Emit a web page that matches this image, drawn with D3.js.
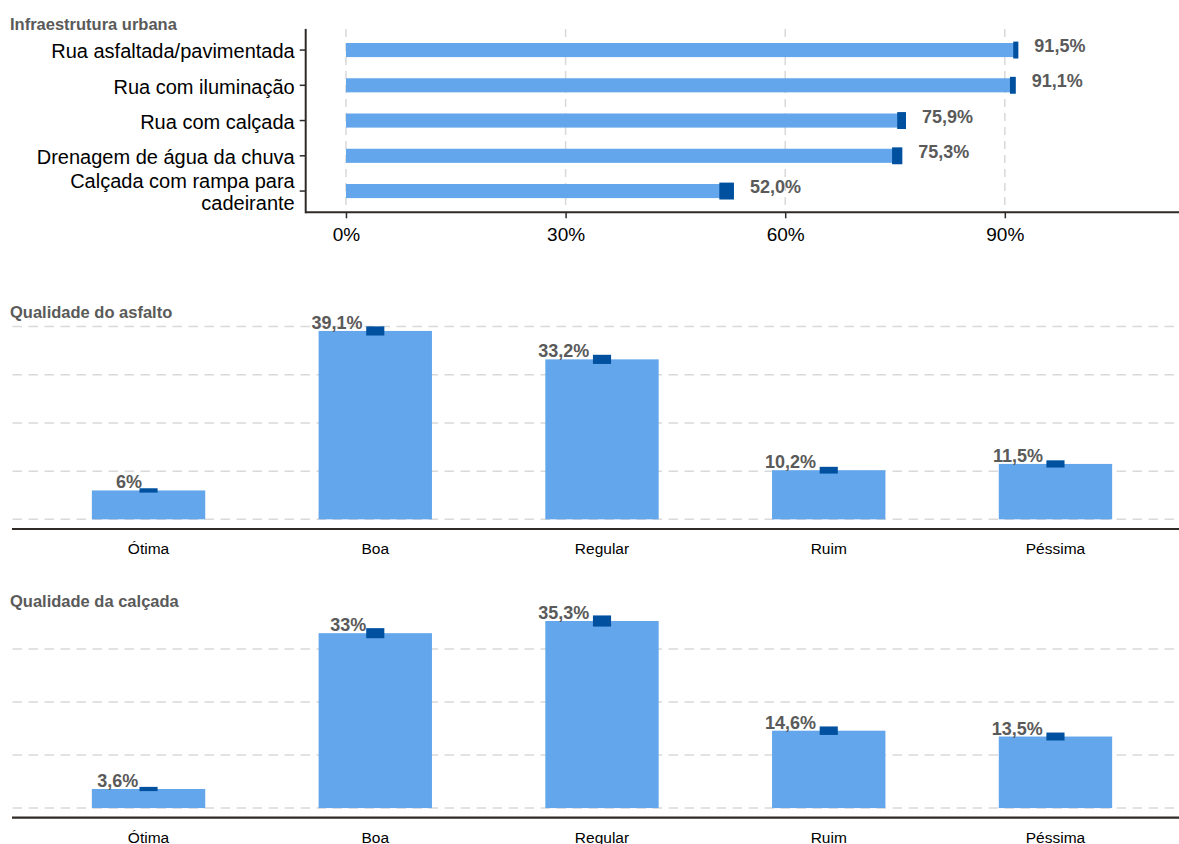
<!DOCTYPE html>
<html>
<head>
<meta charset="utf-8">
<script src="https://cdn.jsdelivr.net/npm/d3@7/dist/d3.min.js"></script>
<style>
  html, body { margin: 0; padding: 0; background: #ffffff; }
  svg { display: block; font-family: "Liberation Sans", Arial, sans-serif; }
</style>
</head>
<body>
<svg id="chart" width="1179" height="844"></svg>
<script>
// Infraestrutura urbana (percentual de domicílios) e margens de erro
const infraCategorias = [
  "Rua asfaltada/pavimentada",
  "Rua com iluminação",
  "Rua com calçada",
  "Drenagem de água da chuva",
  "Calçada com rampa para\ncadeirante"
];
const infraValores = [91.5, 91.1, 75.9, 75.3, 52.0];
const infraMargens = [0.35, 0.4, 0.6, 0.7, 1.0];
const infraTicks = [0, 30, 60, 90];

// Qualidade do asfalto e da calçada
const qualidadeCategorias = ["Ótima", "Boa", "Regular", "Ruim", "Péssima"];
const asfaltoValores = [6, 39.1, 33.2, 10.2, 11.5];
const asfaltoMargens = [0.45, 0.95, 0.95, 0.7, 0.75];
const calcadaValores = [3.6, 33, 35.3, 14.6, 13.5];
const calcadaMargens = [0.4, 0.95, 1.05, 0.8, 0.75];

const COR_BARRA = "#64A6EB";
const COR_ERRO = "#0050A0";
const COR_GRADE = "#d9d9d9";
const COR_EIXO = "#2f2a26";
const COR_ROTULO = "#5a5a5a";

const svg = d3.select("#chart");
const W = 1179;

const fmtDecimal = v => v.toFixed(1).replace(".", ",") + "%";
const fmtCurto = v => String(v).replace(".", ",") + "%";

// ---------- Painel 1: barras horizontais ----------
(function painelInfra() {
  const g = svg.append("g");
  const x = d3.scaleLinear().domain([-5.5, 115.5]).range([305.7, 1191.5]);
  const y = d3.scaleBand().domain(infraCategorias).range([28.9, 212.2])
    .paddingInner(0.6).paddingOuter(0.4);
  const step = y.step();
  const dados = infraCategorias.map((c, i) => ({ c, v: infraValores[i], m: infraMargens[i] }));

  g.append("text").attr("x", 10).attr("y", 29.5)
    .attr("font-size", 16.5).attr("font-weight", "bold").attr("fill", COR_ROTULO)
    .text("Infraestrutura urbana");

  // grade vertical tracejada
  g.selectAll("line.grade").data(infraTicks).join("line")
    .attr("x1", d => x(d)).attr("x2", d => x(d))
    .attr("y1", 28.9).attr("y2", 212.2)
    .attr("stroke", COR_GRADE).attr("stroke-width", 1.5).attr("stroke-dasharray", "8,6");

  g.selectAll("rect.barra").data(dados).join("rect")
    .attr("x", x(0)).attr("y", d => y(d.c))
    .attr("width", d => x(d.v) - x(0)).attr("height", y.bandwidth())
    .attr("fill", COR_BARRA);

  g.selectAll("rect.erro").data(dados).join("rect")
    .attr("x", d => x(d.v - d.m)).attr("width", d => x(d.v + d.m) - x(d.v - d.m))
    .attr("y", d => y(d.c) + y.bandwidth() / 2 - step * 0.24).attr("height", step * 0.48)
    .attr("fill", COR_ERRO);

  g.selectAll("text.valor").data(dados).join("text")
    .attr("x", d => x(d.v + d.m) + 16)
    .attr("y", d => y(d.c) + y.bandwidth() / 2 + 2)
    .attr("font-size", 18).attr("font-weight", "bold").attr("fill", COR_ROTULO)
    .text(d => fmtDecimal(d.v));

  // eixo x
  const eixoX = g.append("g").attr("transform", "translate(0,212.3)")
    .call(d3.axisBottom(x).tickValues(infraTicks).tickSize(6).tickPadding(9)
      .tickFormat(d => d + "%"));
  eixoX.select(".domain").remove();
  eixoX.selectAll(".tick line").attr("stroke", COR_EIXO).attr("stroke-width", 1.5);
  eixoX.selectAll(".tick text").attr("font-size", 19).attr("fill", "#000")
    .attr("font-family", "Liberation Sans, Arial, sans-serif").attr("dy", "0.72em");
  g.append("line").attr("x1", 305.7).attr("x2", W).attr("y1", 212.3).attr("y2", 212.3)
    .attr("stroke", COR_EIXO).attr("stroke-width", 2);

  // eixo y
  const eixoY = g.append("g").attr("transform", "translate(305.7,0)")
    .call(d3.axisLeft(y).tickSize(6).tickPadding(5));
  eixoY.select(".domain").remove();
  eixoY.selectAll(".tick line").attr("stroke", COR_EIXO).attr("stroke-width", 1.5);
  eixoY.selectAll(".tick text").each(function (d) {
    const t = d3.select(this);
    const linhas = d.split("\n");
    t.text(null).attr("font-size", 20).attr("fill", "#000")
      .attr("font-family", "Liberation Sans, Arial, sans-serif").attr("dy", null);
    const lh = 21.7;
    const y0 = 8.3 - (linhas.length - 1) * lh / 2 - (linhas.length > 1 ? 0.2 : 0);
    linhas.forEach((l, k) => {
      t.append("tspan").attr("x", -11).attr("y", y0 + k * lh).text(l);
    });
  });
  g.append("line").attr("x1", 305.7).attr("x2", 305.7).attr("y1", 28.9).attr("y2", 213.3)
    .attr("stroke", COR_EIXO).attr("stroke-width", 2);
})();

// ---------- Painéis 2 e 3: barras verticais ----------
function painelQualidade(titulo, tituloY, valores, margens, base, topo) {
  const g = svg.append("g");
  const dados = qualidadeCategorias.map((c, i) => ({ c, v: valores[i], m: margens[i] }));
  const maxV = d3.max(dados, d => d.v + d.m);
  const exp = maxV * 0.05;
  const y = d3.scaleLinear().domain([-exp, maxV + exp]).range([base, topo]);
  const x = d3.scaleBand().domain(qualidadeCategorias).range([12.5, 1191.5])
    .paddingInner(0.5).paddingOuter(0.35);
  const step = x.step();

  g.append("text").attr("x", 10).attr("y", tituloY)
    .attr("font-size", 16.5).attr("font-weight", "bold").attr("fill", COR_ROTULO)
    .text(titulo);

  const grade = d3.range(0, maxV + exp, 10);
  g.selectAll("line.grade").data(grade).join("line")
    .attr("x1", 12.5).attr("x2", W)
    .attr("y1", d => y(d)).attr("y2", d => y(d))
    .attr("stroke", COR_GRADE).attr("stroke-width", 1.5).attr("stroke-dasharray", "9.5,6.5");

  g.selectAll("rect.barra").data(dados).join("rect")
    .attr("x", d => x(d.c)).attr("width", x.bandwidth())
    .attr("y", d => y(d.v)).attr("height", d => y(0) - y(d.v))
    .attr("fill", COR_BARRA);

  g.selectAll("rect.erro").data(dados).join("rect")
    .attr("x", d => x(d.c) + x.bandwidth() / 2 - step * 0.04).attr("width", step * 0.08)
    .attr("y", d => y(d.v + d.m)).attr("height", d => y(d.v - d.m) - y(d.v + d.m))
    .attr("fill", COR_ERRO);

  g.selectAll("text.valor").data(dados).join("text")
    .attr("y", d => y(d.v) - 2)
    .attr("font-size", 18).attr("font-weight", "bold").attr("fill", COR_ROTULO)
    .attr("text-anchor", "end")
    .text(d => fmtCurto(d.v))
    .attr("x", function (d) {
      const w = this.getComputedTextLength();
      return x(d.c) + x.bandwidth() / 2 - 0.25 * w;
    });

  const eixo = g.append("g").attr("transform", `translate(0,${base})`)
    .call(d3.axisBottom(x).tickSize(0).tickPadding(0));
  eixo.select(".domain").remove();
  eixo.selectAll(".tick text").attr("font-size", 15.5).attr("fill", "#000")
    .attr("font-family", "Liberation Sans, Arial, sans-serif")
    .attr("dy", null).attr("y", 25);
  g.append("line").attr("x1", 12).attr("x2", W).attr("y1", base).attr("y2", base)
    .attr("stroke", COR_EIXO).attr("stroke-width", 2.2);
}

painelQualidade("Qualidade do asfalto", 318, asfaltoValores, asfaltoMargens, 529, 316.7);
painelQualidade("Qualidade da calçada", 606.5, calcadaValores, calcadaMargens, 817.7, 605.8);
</script>
</body>
</html>
